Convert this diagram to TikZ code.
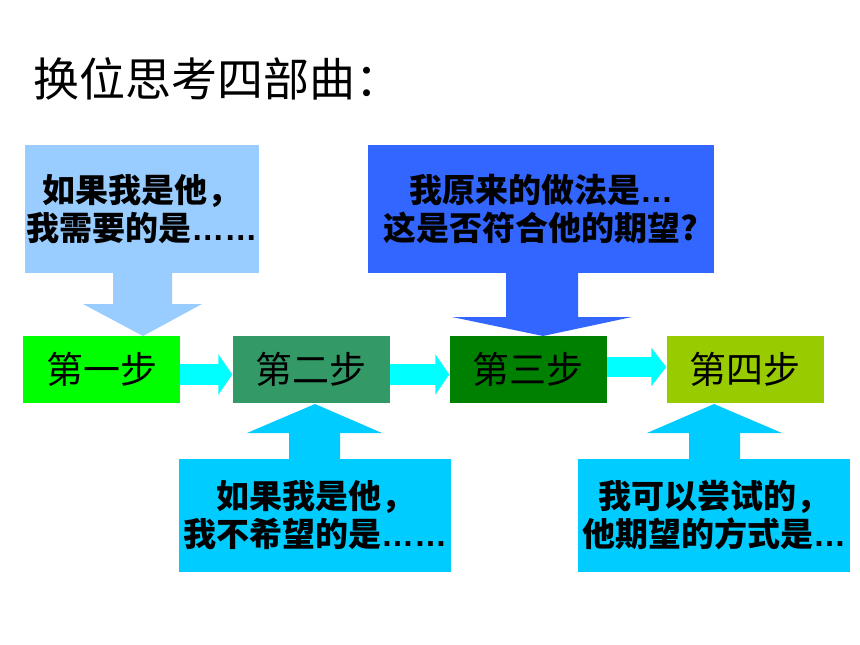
\documentclass[tikz,border=0pt]{standalone}
\usepackage{fontspec}
\newfontfamily\cjk{Noto Sans CJK SC}
\newfontfamily\latb{Liberation Sans}
\usetikzlibrary{arrows.meta}
\definecolor{lblue}{HTML}{99CCFF}
\definecolor{dblue}{HTML}{3366FF}
\definecolor{cblue}{HTML}{00CCFF}
\definecolor{aqua}{HTML}{00FFFF}
\definecolor{gone}{HTML}{00FF00}
\definecolor{gtwo}{HTML}{339966}
\definecolor{gthree}{HTML}{008000}
\definecolor{gfour}{HTML}{99CC00}
\tikzset{
  stepbox/.style={draw=none, inner sep=0pt, minimum width=157pt, minimum height=67pt,
    font=\cjk\fontsize{37}{40}\selectfont, text=black},
  callout/.style={draw=none, inner sep=0pt, align=center,
    font=\cjk\bfseries\fontsize{33}{38}\selectfont, text=black},
  flow/.style={draw=aqua, line width=21pt, -{Triangle[length=14pt,width=40pt]}}
}
\newcommand\mydots[1]{{\latb\bfseries #1}}
\begin{document}
\begin{tikzpicture}[x=1pt,y=-1pt]
\useasboundingbox[fill=white] (0,0) rectangle (860,645);
% title
\node[anchor=west, inner sep=0pt, font=\cjk\fontsize{46}{50}\selectfont] (title) at (33,79) {换位思考四部曲：};
% step boxes
\node[stepbox, fill=gone] (s1) at (101.5,369.5) {第一步};
\node[stepbox, fill=gtwo] (s2) at (311,369.5) {第二步};
\node[stepbox, fill=gthree] (s3) at (528,369.5) {第三步};
\node[stepbox, fill=gfour] (s4) at (745,369.5) {第四步};
% flow arrows
\draw[flow] ([yshift=-5pt]s1.east) -- ([yshift=-5pt]s2.west);
\draw[flow] ([yshift=-5pt]s2.east) -- ([yshift=-5pt]s3.west);
\draw[flow, line width=20pt, -{Triangle[length=15pt,width=38pt]}] ([yshift=2.5pt]s3.east) -- ([yshift=2.5pt]s4.west);
% callout pointers
\fill[lblue] (113,272) -- (113,304) -- (83,304) -- (143,336) -- (202,304) -- (172,304) -- (172,272) -- cycle;
\fill[dblue] (506,272) -- (506,317) -- (452,317) -- (543,336) -- (632,317) -- (578,317) -- (578,272) -- cycle;
\fill[cblue] (289,460) -- (289,433) -- (247,433) -- (315,404) -- (382,433) -- (340,433) -- (340,460) -- cycle;
\fill[cblue] (689,460) -- (689,433) -- (647,433) -- (714,404) -- (782,433) -- (740,433) -- (740,460) -- cycle;
% callout boxes
\node[callout, fill=lblue, minimum width=234pt, minimum height=128pt] (c1) at (142,209)
  {如果我是他，\\我需要的是\mydots{……}};
\node[callout, fill=dblue, minimum width=346pt, minimum height=128pt] (c2) at (541,209)
  {我原来的做法是\mydots{…}\\这是否符合他的期望?};
\node[callout, fill=cblue, minimum width=272pt, minimum height=113pt] (c3) at (315,515.5)
  {如果我是他，\\我不希望的是\mydots{……}};
\node[callout, fill=cblue, minimum width=272pt, minimum height=113pt] (c4) at (714,515.5)
  {我可以尝试的，\\他期望的方式是\mydots{…}};
\end{tikzpicture}
\end{document}
